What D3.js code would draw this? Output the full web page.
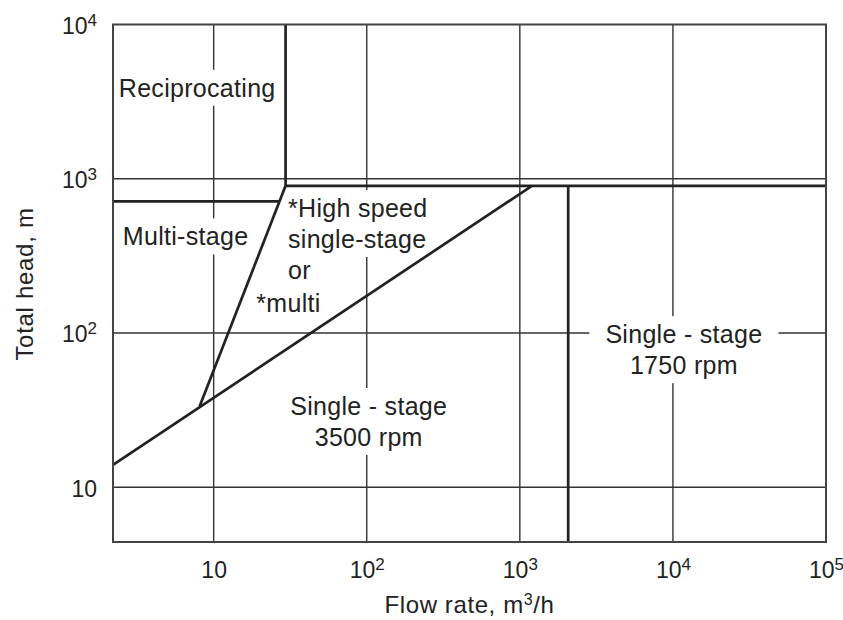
<!DOCTYPE html>
<html>
<head>
<meta charset="utf-8">
<script src="https://cdn.jsdelivr.net/npm/d3@7"></script>
<style>
  body { margin: 0; background: #fff; }
  svg { display: block; font-family: "Liberation Sans", Arial, sans-serif; }
</style>
</head>
<body>
<div id="chart"></div>
<script>
// log decades on both axes
const xTicks = [10, 1e2, 1e3, 1e4, 1e5];
const yTicks = [10, 1e2, 1e3, 1e4];
const xExtent = [2.2, 1e5];
const yExtent = [4.42, 1e4];

// region boundaries, points are [flow m3/h, head m]
const reciprocatingEdge = [[29.5, 1e4], [29.5, 900]];
const headLimit = [[29.5, 900], [1e5, 900]];
const multiStageTop = [[2.2, 714], [27, 714]];
const multiStageEdge = [[29.5, 900], [8.1, 33.5]];
const speedLine = [[2.2, 14], [1200, 900]];
const rpmSplit = [[2070, 900], [2070, 4.42]];

// region labels and where they sit (data units)
const labelLines = [
  ['Reciprocating'],
  ['Multi-stage'],
  ['*High speed', 'single-stage', 'or'],
  ['*multi'],
  ['Single - stage', '3500 rpm'],
  ['Single - stage', '1750 rpm']
];
const labelAnchors = [[2.4, 3400], [2.55, 370], [30.6, 565], [19, 137], [103, 29.4], [11800, 86]];

const width = 843, height = 620;
const margin = { top: 24.5, right: 17, bottom: 78, left: 113 };

const svg = d3.select('#chart').append('svg')
  .attr('width', width)
  .attr('height', height);

const x = d3.scaleLog().domain(xExtent).range([margin.left, width - margin.right]);
const y = d3.scaleLog().domain(yExtent).range([height - margin.bottom, margin.top]);

const ink = '#222';

// grid
const grid = svg.append('g').attr('stroke', '#333').attr('stroke-width', 1.4);
grid.selectAll('.vgrid')
  .data(xTicks.filter(d => d < xExtent[1]))
  .enter().append('line')
  .attr('x1', d => x(d)).attr('x2', d => x(d))
  .attr('y1', y(yExtent[0])).attr('y2', y(yExtent[1]));
grid.selectAll('.hgrid')
  .data(yTicks.filter(d => d < yExtent[1]))
  .enter().append('line')
  .attr('y1', d => y(d)).attr('y2', d => y(d))
  .attr('x1', x(xExtent[0])).attr('x2', x(xExtent[1]));

const boxes = svg.append('g');
const curves = svg.append('g');

// plot frame
svg.append('rect')
  .attr('x', x(xExtent[0])).attr('y', y(yExtent[1]))
  .attr('width', x(xExtent[1]) - x(xExtent[0]))
  .attr('height', y(yExtent[0]) - y(yExtent[1]))
  .attr('fill', 'none').attr('stroke', '#444').attr('stroke-width', 2);

const line = d3.line().x(d => x(d[0])).y(d => y(d[1]));
[reciprocatingEdge, headLimit, multiStageTop, multiStageEdge, speedLine, rpmSplit].forEach(seg => {
  curves.append('path')
    .attr('d', line(seg))
    .attr('fill', 'none')
    .attr('stroke', ink)
    .attr('stroke-width', 2.7);
});

// labels, each line gets a white patch so the grid breaks around it
const labels = svg.append('g').attr('fill', ink).style('font-size', '25px').style('letter-spacing', '0.3px');
labelLines.forEach((lines, i) => {
  const [ax, ay] = labelAnchors[i];
  const anchor = i >= 4 ? 'middle' : 'start';
  lines.forEach((txt, j) => {
    const t = labels.append('text')
      .attr('x', x(ax))
      .attr('y', y(ay) + j * 31)
      .attr('text-anchor', anchor)
      .text(txt);
    const bb = t.node().getBBox();
    boxes.append('rect')
      .attr('x', bb.x - 16).attr('y', bb.y - 4)
      .attr('width', bb.width + 32).attr('height', bb.height + 8)
      .attr('fill', '#fff');
  });
});

// tick labels as 10 with a raised exponent
function powLabel(sel) {
  sel.each(function(d) {
    const e = Math.round(Math.log10(d));
    const t = d3.select(this).text(null);
    t.append('tspan').text('10');
    if (e > 1) {
      t.append('tspan').attr('dy', '-8').style('font-size', '17px').text(e);
    }
  });
}

const xAxis = svg.append('g')
  .attr('transform', 'translate(0,' + y(yExtent[0]) + ')')
  .call(d3.axisBottom(x).tickValues(xTicks).tickSize(0).tickPadding(20));
const yAxis = svg.append('g')
  .attr('transform', 'translate(' + x(xExtent[0]) + ',0)')
  .call(d3.axisLeft(y).tickValues(yTicks).tickSize(0).tickPadding(16));

[xAxis, yAxis].forEach(ax => {
  ax.select('.domain').remove();
  ax.selectAll('text')
    .attr('fill', ink)
    .style('font-size', '23px')
    .style('font-family', '"Liberation Sans", Arial, sans-serif')
    .call(powLabel);
});
yAxis.selectAll('text').attr('dy', '0.38em');

// axis titles
const xTitle = svg.append('text')
  .attr('x', (x(xExtent[0]) + x(xExtent[1])) / 2)
  .attr('y', 613)
  .attr('text-anchor', 'middle')
  .attr('fill', ink)
  .style('font-size', '24px')
  .style('letter-spacing', '0.6px');
xTitle.append('tspan').text('Flow rate, m');
xTitle.append('tspan').attr('dy', '-8').style('font-size', '16px').text('3');
xTitle.append('tspan').attr('dy', '8').text('/h');

svg.append('text')
  .attr('transform', 'translate(33,284) rotate(-90)')
  .attr('text-anchor', 'middle')
  .attr('fill', ink)
  .style('font-size', '24px')
  .style('letter-spacing', '0.7px')
  .text('Total head, m');
</script>
</body>
</html>
